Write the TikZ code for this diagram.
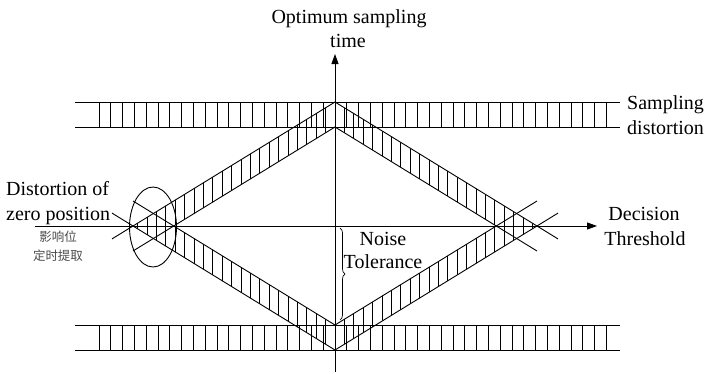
\documentclass[tikz,border=0pt]{standalone}
\usepackage{fontspec}
\setmainfont{Liberation Serif}
\newfontfamily\serifx{Liberation Serif}
\newfontfamily\cjk{Noto Sans CJK SC}
\usetikzlibrary{arrows.meta,decorations.pathreplacing}
\begin{document}
\begin{tikzpicture}[x=1pt,y=-1pt,
  ln/.style={line width=0.9pt},
  hatchline/.style={line width=0.8pt},
  lbl/.style={font=\serifx\fontsize{20}{24}\selectfont, inner sep=0pt, anchor=base},
  zh/.style={font=\cjk\fontsize{12.5}{14}\selectfont, text=black!70, inner sep=0pt, anchor=base},
  arr/.style={ln,-{Triangle[length=10pt,width=7pt]}}]
\useasboundingbox (0,0) rectangle (705,373);
% key points
\coordinate (hstart) at (35,226);
\coordinate (hend) at (597,226);
\coordinate (vstart) at (335,372);
\coordinate (vend) at (335,54);
\coordinate (ot) at (335,102);
\coordinate (it) at (335,127);
\coordinate (ob) at (335,350);
\coordinate (ib) at (335,325);
% bands
\draw[ln] (75,102) -- (620,102) (75,127) -- (620,127);
\draw[ln] (75,325) -- (620,325) (75,350) -- (620,350);
\foreach \k in {-20,...,23} {
  \draw[hatchline] ({335+\k*11.8},102) -- ({335+\k*11.8},127);
  \draw[hatchline] ({335+\k*11.8},325) -- ({335+\k*11.8},350);
}
% diamond strip hatching
\begin{scope}
\clip (133,226) -- (335,102) -- (537,226) -- (496.2,226) -- (335,127) -- (173.8,226) -- cycle
      (133,226) -- (335,350) -- (537,226) -- (496.2,226) -- (335,325) -- (173.8,226) -- cycle;
\foreach \k in {-22,...,22} \draw[hatchline] ({335+\k*9.4},95) -- ({335+\k*9.4},360);
\end{scope}
% diamond lines
\draw[ln] (112,238.9) -- (ot) -- (558,238.9);
\draw[ln] (133,251) -- (it) -- (537,251);
\draw[ln] (112,213.1) -- (ob) -- (558,213.1);
\draw[ln] (133,201) -- (ib) -- (537,201);
% ellipse
\draw[ln] (153,227) ellipse [x radius=23.5pt, y radius=40pt];
% axes
\draw[arr] (hstart) -- (hend);
\draw[arr] (vstart) -- (vend);
% brace
\draw[line width=0.7pt, decorate, decoration={brace, amplitude=5pt}] (340,228) -- (340,320);
% labels
\node[lbl] (opt1) at (349,23) {Optimum sampling};
\node[lbl] (opt2) at (348,47) {time};
\node[lbl, anchor=base west] (samp1) at (627,109) {Sampling};
\node[lbl, anchor=base west] (samp2) at (627,134) {distortion};
\node[lbl] (dec1) at (644,220) {Decision};
\node[lbl] (dec2) at (645,245) {Threshold};
\node[lbl, anchor=base west] (dis1) at (6,195) {Distortion of};
\node[lbl, anchor=base west] (dis2) at (6,220) {zero position};
\node[zh] (zh1) at (58,241) {影响位};
\node[zh] (zh2) at (58,260) {定时提取};
\node[lbl] (n1) at (383,245) {Noise};
\node[lbl] (n2) at (383,268) {Tolerance};
\end{tikzpicture}
\end{document}
